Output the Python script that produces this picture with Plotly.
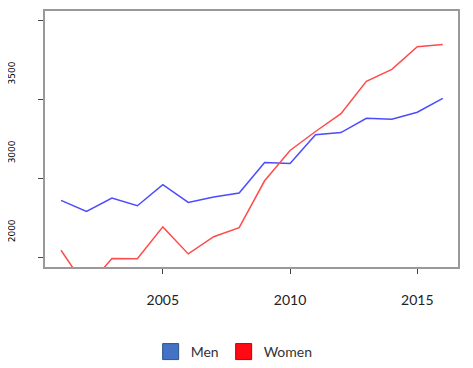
import plotly.graph_objects as go

years = list(range(2001, 2017))
men = [2360, 2290, 2375, 2326, 2459, 2347, 2381, 2406, 2600, 2594, 2775, 2789, 2880, 2874, 2918, 3006]
women = [2044, 1805, 1992, 1990, 2192, 2021, 2130, 2187, 2484, 2676, 2796, 2909, 3114, 3189, 3333, 3347]
y_tickvals = [2000, 2500, 3000, 3500]
y_ticktext = ["2000", "3000", "3500", ""]
x_tickvals = [2005, 2010, 2015]

fig = go.Figure()
fig.add_trace(go.Scatter(x=years, y=men, mode="lines", line=dict(color="#4b4bff", width=1.5),
                         showlegend=False, name="Men"))
fig.add_trace(go.Scatter(x=years, y=women, mode="lines", line=dict(color="#ff4b4b", width=1.5),
                         showlegend=False, name="Women"))
# legend entries
fig.add_trace(go.Scatter(x=[None], y=[None], mode="markers", name="Men",
                         marker=dict(symbol="square", size=16, color="#4472C4",
                                     line=dict(color="#2F528F", width=1))))
fig.add_trace(go.Scatter(x=[None], y=[None], mode="markers", name="Women",
                         marker=dict(symbol="square", size=16, color="#FF0A14",
                                     line=dict(color="#C00000", width=1))))

fig.update_layout(
    width=473, height=368,
    margin=dict(l=37, r=23, t=3, b=109, autoexpand=False),
    paper_bgcolor="white", plot_bgcolor="white",
    font=dict(family="Lato, Open Sans, sans-serif", size=14, color="#222"),
    legend=dict(orientation="h", x=0.458, xanchor="center", y=-0.332, yanchor="middle",
                font=dict(size=14, color="#333"), itemwidth=30),
    xaxis=dict(range=[2000.37, 2016.6], tickvals=x_tickvals, ticks="outside", ticklen=5,
               tickcolor="#444", showgrid=False, zeroline=False,
               showline=True, linecolor="#999", linewidth=2, mirror=True,
               tickfont=dict(size=14, color="#222"), ticklabelstandoff=14),
    yaxis=dict(range=[1938, 3559], tickvals=y_tickvals, ticktext=y_ticktext,
               ticks="outside", ticklen=5, tickcolor="#444", showgrid=False, zeroline=False,
               showline=True, linecolor="#999", linewidth=2, mirror=True, automargin=False,
               tickangle=-90, tickfont=dict(family="DejaVu Sans", size=9, color="#000"),
               ticklabelshift=-25, ticklabelstandoff=19),
)

fig.write_html("out.html")
